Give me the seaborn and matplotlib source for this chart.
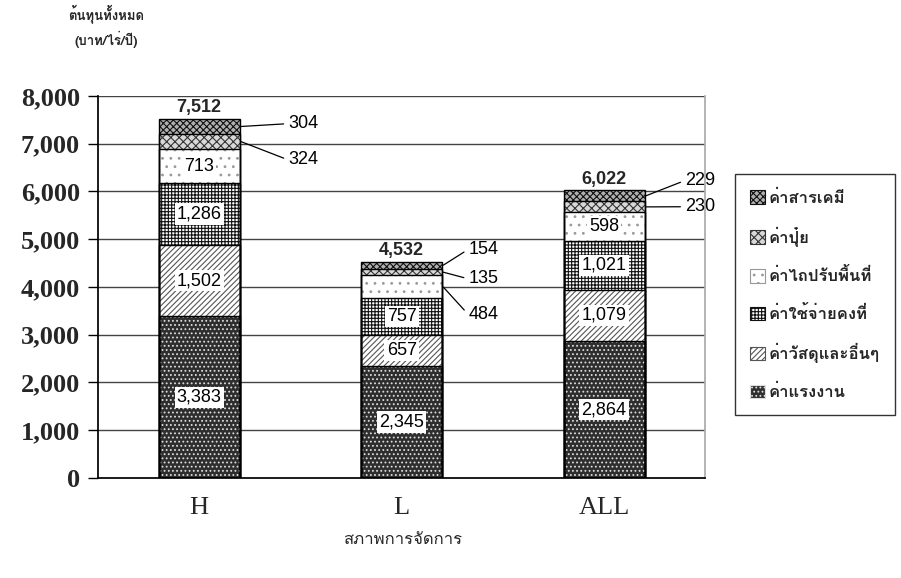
import numpy as np
import pandas as pd
import matplotlib
matplotlib.use("Agg")
import matplotlib.pyplot as plt
import seaborn as sns
from matplotlib import font_manager
from matplotlib.ft2font import FT2Font
from matplotlib.patches import Patch

# ---- data ----
groups = ["H", "L", "ALL"]
cost_names = ["ค่าแรงงาน", "ค่าวัสดุและอื่นๆ", "ค่าใช้จ่ายคงที่",
              "ค่าไถปรับพื้นที่", "ค่าปุ๋ย", "ค่าสารเคมี"]
labor = [3383, 2345, 2864]
materials = [1502, 657, 1079]
fixed_cost = [1286, 757, 1021]
land_prep = [713, 484, 598]
fertilizer = [324, 135, 230]
chemicals = [304, 154, 229]
totals = [7512, 4532, 6022]
y_ticks = [0, 1000, 2000, 3000, 4000, 5000, 6000, 7000, 8000]
y_title = "ต้นทุนทั้งหมด\n(บาท/ไร่/ปี)"
x_title = "สภาพการจัดการ"

series = [labor, materials, fixed_cost, land_prep, fertilizer, chemicals]


def thai_family():
    for f in font_manager.fontManager.ttflist:
        try:
            if 0x0E04 in FT2Font(f.fname).get_charmap():
                return f.name
        except Exception:
            pass
    return None


sns.set_theme(style="white")
thai = thai_family()
fam = ([thai] if thai else []) + ["Liberation Sans", "DejaVu Sans"]
plt.rcParams["font.family"] = fam
plt.rcParams["hatch.linewidth"] = 0.8

fig = plt.figure(figsize=(9.01, 5.78), dpi=100)
ax = fig.add_axes([0.1088, 0.173, 0.674, 0.661])

# segment styles: facecolor, hatch colour, hatch
styles = [
    ("#2e2e2e", "#dddddd", "...."),
    ("white", "#555555", "//////"),
    ("white", "#111111", "+++++"),
    ("white", "#999999", ".."),
    ("#d8d8d8", "#333333", "xxxx"),
    ("#b0b0b0", "#111111", "xxxxx"),
]

cum = np.cumsum(np.array(series), axis=0)
df = pd.DataFrame({"group": groups})
# draw from the tallest cumulative layer down so each lower layer sits on top
for k in range(len(series) - 1, -1, -1):
    df["value"] = cum[k]
    fc, hc, hatch = styles[k]
    sns.barplot(data=df, x="group", y="value", color=fc, saturation=1,
                width=0.4, hatch=hatch, edgecolor=hc, linewidth=0,
                ax=ax, zorder=2)
    sns.barplot(data=df, x="group", y="value", fill=False, color="black",
                width=0.4, edgecolor="black", linewidth=1.0, ax=ax, zorder=3)

ax.set_xlim(-0.5, 2.5)
ax.set_ylim(0, 8000)
ax.set_yticks(y_ticks)
ax.set_yticklabels([f"{v:,}" for v in y_ticks],
                   fontfamily="Liberation Serif", fontweight="bold", fontsize=19)
ax.set_xticks(range(len(groups)))
ax.set_xticklabels(groups, fontfamily="Liberation Serif", fontsize=19)
ax.set_xticks([-0.5, 0.5, 1.5, 2.5], minor=True)
ax.tick_params(axis="x", which="major", length=0, pad=14)
ax.tick_params(axis="x", which="minor", length=7, width=1, direction="out", color="black")
ax.tick_params(axis="y", length=7, width=1, direction="out", color="black", pad=6, left=True)
ax.set_xlabel("")
ax.set_ylabel("")
for y in y_ticks[1:]:
    ax.axhline(y, color="#444444", lw=1.0, zorder=1)
ax.spines["top"].set_visible(False)
ax.spines["right"].set_color("#aaaaaa")
ax.spines["left"].set_color("black")
ax.spines["bottom"].set_color("black")

# values inside the larger segments
num_font = dict(fontfamily="Liberation Sans", fontsize=13, color="black")
box = dict(boxstyle="square,pad=0.12", facecolor="white", edgecolor="none")
inside = {0: [0, 1, 2, 3], 1: [0, 1, 2], 2: [0, 1, 2, 3]}
for i in range(len(groups)):
    for k in inside[i]:
        mid = cum[k][i] - series[k][i] / 2
        ax.text(i, mid, f"{series[k][i]:,}", ha="center", va="center",
                bbox=box, zorder=5, **num_font)
    ax.text(i, totals[i] + 60, f"{totals[i]:,}", ha="center", va="bottom",
            fontfamily="Liberation Sans", fontsize=13, fontweight="bold", zorder=5)

# small segments labelled outside with leader lines
callouts = [
    # group index, series index, value, label position
    (0, 5, chemicals[0], (0.44, 7420)),
    (0, 4, fertilizer[0], (0.44, 6660)),
    (1, 5, chemicals[1], (1.33, 4790)),
    (1, 4, fertilizer[1], (1.33, 4170)),
    (1, 3, land_prep[1], (1.33, 3420)),
    (2, 5, chemicals[2], (2.40, 6230)),
    (2, 4, fertilizer[2], (2.40, 5680)),
]
for i, k, v, (tx, ty) in callouts:
    y_mid = cum[k][i] - series[k][i] / 2
    ax.annotate(f"{v:,}", xy=(i + 0.205, y_mid), xytext=(tx, ty),
                ha="left", va="center", zorder=6, annotation_clip=False,
                arrowprops=dict(arrowstyle="-", color="black", lw=0.9,
                                shrinkA=1, shrinkB=0,
                                relpos=(0, 0.5)),
                **num_font)

# axis titles
fig.text(0.118, 0.955, y_title, ha="center", va="center", fontsize=9.5,
         fontweight="bold", linespacing=1.6)
fig.text(0.447, 0.066, x_title, ha="center", va="center", fontsize=12)

# legend
handles = [Patch(facecolor=styles[k][0], edgecolor=styles[k][1], hatch=styles[k][2],
                 linewidth=0.8, label=cost_names[k])
           for k in range(len(series) - 1, -1, -1)]
leg = fig.legend(handles=handles, loc="center left",
                 bbox_to_anchor=(0.806, 0.49), frameon=True, fancybox=False,
                 edgecolor="black", handlelength=0.9, handleheight=0.9,
                 handletextpad=0.25, labelspacing=1.25, borderpad=0.9,
                 prop=dict(size=12, weight="bold"))
leg.get_frame().set_linewidth(1.0)

fig.savefig("out.png", dpi=100)
